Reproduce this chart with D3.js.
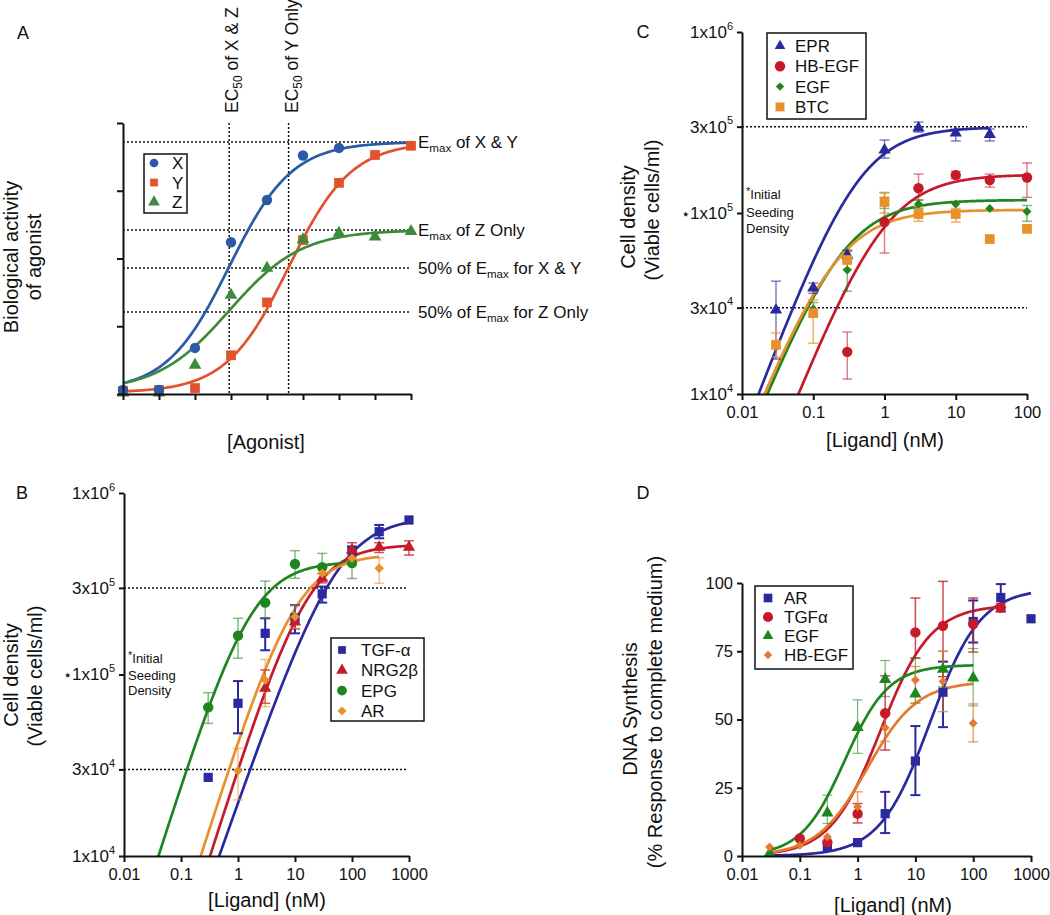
<!DOCTYPE html>
<html>
<head>
<meta charset="utf-8">
<script src="https://cdnjs.cloudflare.com/ajax/libs/d3/7.8.5/d3.min.js"></script>
<style>
body { margin: 0; background: #fff; }
text { font-family: "Liberation Sans", Arial, Helvetica, sans-serif; fill: #111; }
</style>
</head>
<body>
<svg id="fig" width="1050" height="915"></svg>
<script>
// ---------- PANEL A: curvas teoricas ----------
var aLevels = [0, 1, 2, 3, 4, 5, 6, 7, 8];
var aX = [1.5, 1.5, 17, 56, 71.6, 88, 90.8];
var aY = [1.2, 1.5, 2.2, 14.3, 33.8, 56.8, 77.9, 88.2, 91.6];
var aZ = [0.4, 0.4, 10.7, 36.5, 46.5, 57, 59.4, 58, 60];
// ajuste: [base, tope, punto medio, pendiente]
var aFitX = [1, 93, 2.95, 1.15];
var aFitY = [0.5, 93, 4.6, 1.15];
var aFitZ = [1, 60.5, 2.95, 1.0];
var aRefY = [93, 60.5, 46.5, 30.25];
var aRefLabels = [
    [['E', ''], ['max', 'sub'], [' of X & Y', '']],
    [['E', ''], ['max', 'sub'], [' of Z Only', '']],
    [['50% of E', ''], ['max', 'sub'], [' for X & Y', '']],
    [['50% of E', ''], ['max', 'sub'], [' for Z Only', '']]
];
var aEc50 = [2.95, 4.6];
var aEc50Labels = ['X & Z', 'Y Only'];

// ---------- PANEL B ----------
// [nM, celulas/ml, error bajo, error alto]
var bTGFa = [[0.3, 27100], [1, 69400, 47400, 92000], [3, 168600, 136000, 204000], [10, 205000, 168600, 241000],
    [30, 278000, 249000, 305000], [100, 485000, 465000, 505000], [300, 612000, 563000, 667000], [1000, 710000]];
var bNRG2b = [[3, 83900, 69400, 106000], [10, 195000, 178000, 214000], [30, 339000, 320000, 360000],
    [100, 485000, 445000, 532000], [300, 502000, 470000, 532000], [1000, 502000, 455000, 545000]];
var bEPG = [[0.3, 65900, 53800, 79400], [1, 163700, 123000, 204000], [3, 249000, 204000, 327000],
    [10, 406000, 339000, 481000], [30, 390000, 332000, 465000], [100, 411000, 338000, 485000]];
var bAR = [[1, 29500, 20400, 39200], [3, 93300, 66500, 121000], [10, 208000, 180000, 240000],
    [30, 361000, 330000, 390000], [100, 437000, 400000, 470000], [300, 385000, 318000, 440000]];
// ajuste: [tope, EC50, hill], rango
var bFits = [[740000, 55, 0.9], [520000, 16.5, 1.0], [420000, 1.65, 1.0], [460000, 10, 1.0]];
var bFitRange = [[0.01, 1000], [0.01, 1000], [0.01, 100], [0.01, 300]];

// ---------- PANEL C ----------
var cEPR = [[0.03, 29100, 15600, 42000], [0.1, 38500, 36000, 41000], [0.3, 58500, 55000, 62000],
    [1, 223000, 201000, 253000], [3, 295000, 280000, 318000], [10, 277000, 250000, 291000], [30, 272000, 250000, 291000]];
var cHBEGF = [[0.3, 17100, 12100, 22000], [1, 89100, 60100, 122000], [3, 137000, 118000, 164000],
    [10, 162000, 155000, 170000], [30, 152000, 139000, 164000], [100, 157000, 122000, 189000]];
var cEGF = [[0.1, 29500, 27000, 32000], [0.3, 48400, 37000, 62500], [1, 116000, 106000, 129000],
    [3, 112000, 106000, 118000], [10, 112000], [30, 106000], [100, 102000, 90000, 110000]];
var cBTC = [[0.03, 18700, 16000, 21700], [0.1, 28000, 19100, 33100], [0.3, 55000, 49000, 61000],
    [1, 115000, 100000, 130000], [3, 98700, 90000, 108000], [10, 98700, 89100, 106000], [30, 71800], [100, 81700]];
var cFits = [[298000, 0.42, 1.05], [163000, 0.95, 1.0], [118000, 0.246, 1.0], [104000, 0.195, 1.0]];
var cFitRange = [[0.01, 30], [0.01, 100], [0.01, 100], [0.01, 100]];

// ---------- PANEL D ----------
var dAR = [[0.3, 3.5], [1, 4.9], [3, 15.5, 8.4, 23.5], [10, 34.8, 22.3, 47.6], [30, 60, 47.2, 71.2],
    [100, 85.9, 78.2, 93.6], [300, 94.7, 89.6, 99.6], [1000, 86.9]];
var dTGFa = [[0.1, 6.4], [0.3, 5], [1, 15.5, 12.1, 19.2], [3, 52.3, 38.8, 66], [10, 81.9, 72.5, 94.5],
    [30, 84.3, 65.7, 100.6], [100, 85, 74.7, 94.5], [300, 91, 89.5, 92.5]];
var dEGF = [[0.03, 0.9], [0.3, 15.8, 11.9, 22.3], [1, 47.1, 37.6, 57.2], [3, 64.7, 58.4, 71.6],
    [10, 59.4, 56, 72.5], [30, 68.4, 62, 75], [100, 65.2, 55, 76]];
var dHBEGF = [[0.03, 3.3], [0.1, 3.9], [0.3, 7], [1, 18, 14.3, 23.5], [3, 47, 42, 52], [10, 64.5, 56, 69.4],
    [30, 63.9, 52.9, 75], [100, 48.6, 41.8, 55.7]];
var dFits = [[98, 18, 1.0], [92, 2.5, 1.0], [70, 0.6, 1.15], [64, 1.46, 1.0]];
var dFitRange = [[0.03, 1000], [0.03, 300], [0.03, 100], [0.03, 100]];

var xTicksB = [0.01, 0.1, 1, 10, 100, 1000];
var xTicksC = [0.01, 0.1, 1, 10, 100];
var yTicksLog = [1e4, 3e4, 1e5, 3e5, 1e6];
var yTicksD = [0, 25, 50, 75, 100];

// colores
var BLUE = '#2a2a9e', RED = '#c41a2a', GREEN = '#1f861f', ORANGE = '#e8902a', ORANGE2 = '#e27a30';

var svg = d3.select('#fig');

function hill(x, f) {
    return f[0] / (1 + Math.pow(f[1] / x, f[2]));
}

function symbolPath(shape, size) {
    var t = { circle: d3.symbolCircle, square: d3.symbolSquare, triangle: d3.symbolTriangle, diamond: d3.symbolSquare }[shape];
    return d3.symbol().type(t).size(size)();
}

function drawMarker(g, shape, size, color, px, py) {
    g.append('path')
        .attr('d', symbolPath(shape, size))
        .attr('fill', color)
        .attr('transform', 'translate(' + px + ',' + py + ')' + (shape === 'diamond' ? ' rotate(45)' : ''));
}

function styleAxis(ax, fs) {
    ax.selectAll('path, line').attr('stroke', '#111').attr('stroke-width', 2);
    ax.selectAll('text').attr('font-size', fs).attr('fill', '#111');
}

function richText(t, parts, fs) {
    // partes con subindice
    var shift = 0;
    parts.forEach(function (p) {
        var s = t.append('tspan').text(p[0]);
        if (p[1] === 'sub') {
            s.attr('font-size', fs * 0.68).attr('dy', 4);
            shift = 4;
        } else if (shift) {
            s.attr('dy', -shift);
            shift = 0;
        }
    });
}

function legend(g, box, rows, markerX, textX, items) {
    g.append('rect').attr('x', box[0]).attr('y', box[1]).attr('width', box[2]).attr('height', box[3])
        .attr('fill', '#fff').attr('stroke', '#111').attr('stroke-width', 1.5);
    items.forEach(function (it, i) {
        var yy = rows[0] + i * rows[1];
        drawMarker(g, it.shape, it.legSize || 60, it.color, markerX, yy);
        g.append('text').attr('x', textX).attr('y', yy).attr('dy', '0.36em')
            .attr('font-size', 17).text(it.name);
    });
}

function rotTitle(g, lines, xs, cy, fs) {
    lines.forEach(function (l, i) {
        g.append('text').attr('transform', 'translate(' + xs[i] + ',' + cy[i] + ') rotate(-90)')
            .attr('text-anchor', 'middle').attr('font-size', fs).text(l);
    });
}

function seedingNote(g, x, ys) {
    var t = g.append('text').attr('x', x).attr('y', ys[0]).attr('font-size', 13);
    t.append('tspan').attr('font-size', 11).attr('dy', -4).text('*');
    t.append('tspan').attr('dy', 4).text('Initial');
    g.append('text').attr('x', x).attr('y', ys[1]).attr('font-size', 13).text('Seeding');
    g.append('text').attr('x', x).attr('y', ys[2]).attr('font-size', 13).text('Density');
}

// ---------- grafico dosis-respuesta generico ----------
function doseChart(p) {
    var g = svg.append('g');
    var x = d3.scaleLog().domain(p.xDomain).range(p.xRange);
    var y = (p.log ? d3.scaleLog() : d3.scaleLinear()).domain(p.yDomain).range(p.yRange);

    g.append('clipPath').attr('id', p.id).append('rect')
        .attr('x', p.xRange[0]).attr('y', p.yRange[1])
        .attr('width', p.xRange[1] - p.xRange[0] + 40).attr('height', p.yRange[0] - p.yRange[1]);

    // lineas punteadas de referencia
    p.refLines.forEach(function (v) {
        g.append('line').attr('x1', p.xRange[0]).attr('x2', p.refEnd)
            .attr('y1', y(v)).attr('y2', y(v))
            .attr('stroke', '#111').attr('stroke-width', 1.5).attr('stroke-dasharray', '2,2');
    });

    // curvas ajustadas
    var line = d3.line().x(function (d) { return x(d[0]); }).y(function (d) { return y(d[1]); });
    p.series.forEach(function (s) {
        var lo = s.range[0], hi = s.range[1];
        var pts = d3.range(0, 241).map(function (i) {
            var xv = lo * Math.pow(hi / lo, i / 240);
            return [xv, hill(xv, s.fit)];
        });
        g.append('path').attr('d', line(pts)).attr('fill', 'none')
            .attr('stroke', s.color).attr('stroke-width', 2.7)
            .attr('clip-path', 'url(#' + p.id + ')');
    });

    // barras de error
    p.series.forEach(function (s) {
        s.data.forEach(function (d) {
            if (d[2] === undefined) return;
            var eg = g.append('g').attr('stroke', s.color).attr('stroke-width', s.errW || 1.5)
                .attr('stroke-opacity', s.errOp || 1);
            var px = x(d[0]);
            eg.append('line').attr('x1', px).attr('x2', px).attr('y1', y(d[2])).attr('y2', y(d[3]));
            eg.append('line').attr('x1', px - 5).attr('x2', px + 5).attr('y1', y(d[2])).attr('y2', y(d[2]));
            eg.append('line').attr('x1', px - 5).attr('x2', px + 5).attr('y1', y(d[3])).attr('y2', y(d[3]));
        });
    });

    // puntos
    p.series.forEach(function (s) {
        s.data.forEach(function (d) {
            drawMarker(g, s.shape, s.size, s.color, x(d[0]), y(d[1]));
        });
    });

    // ejes
    var xa = g.append('g').attr('transform', 'translate(0,' + p.yRange[0] + ')')
        .call(d3.axisBottom(x).tickValues(p.xTicks).tickFormat(function (d) { return String(d); })
            .tickSize(6).tickSizeOuter(0).tickPadding(6));
    styleAxis(xa, 16.5);

    var ya = g.append('g').attr('transform', 'translate(' + p.xRange[0] + ',0)')
        .call(d3.axisLeft(y).tickValues(p.yTicks).tickSize(5).tickSizeOuter(0).tickPadding(4)
            .tickFormat(p.log ? function () { return ''; } : function (d) { return String(d); }));
    styleAxis(ya, 16.5);
    if (p.log) {
        ya.selectAll('.tick text').each(function (d) {
            var e = Math.floor(Math.log10(d) + 1e-9);
            var m = Math.round(d / Math.pow(10, e));
            var t = d3.select(this).text(null).attr('font-size', 17);
            if (d === 1e5) t.append('tspan').attr('font-size', 15).text('\u22C6');
            t.append('tspan').text(m + 'x10');
            t.append('tspan').attr('font-size', 11).attr('dy', '-0.75em').text(e);
        });
    }
    return g;
}

// ---------- PANEL A ----------
(function () {
    var g = svg.append('g');
    var x = d3.scaleLinear().domain([0, 8]).range([123, 411]);
    var y = d3.scaleLinear().domain([0, 100]).range([394, 123]);

    aRefY.forEach(function (v, i) {
        g.append('line').attr('x1', 123).attr('x2', 411).attr('y1', y(v)).attr('y2', y(v))
            .attr('stroke', '#111').attr('stroke-width', 1.5).attr('stroke-dasharray', '2,2');
        var t = g.append('text').attr('x', 418).attr('y', y(v)).attr('dy', '0.35em').attr('font-size', 17);
        richText(t, aRefLabels[i], 17);
    });
    aEc50.forEach(function (v, i) {
        g.append('line').attr('x1', x(v)).attr('x2', x(v)).attr('y1', 123).attr('y2', 394)
            .attr('stroke', '#111').attr('stroke-width', 1.5).attr('stroke-dasharray', '2,2');
        var t = g.append('text').attr('transform', 'translate(' + (x(v) + 9) + ',113) rotate(-90)')
            .attr('font-size', 17.5);
        richText(t, [['EC', ''], ['50', 'sub'], [' of ' + aEc50Labels[i], '']], 17.5);
    });

    var series = [
        { name: 'X', data: aX, fit: aFitX, color: '#2a5aa8', shape: 'circle', size: 85 },
        { name: 'Y', data: aY, fit: aFitY, color: '#e0532d', shape: 'square', size: 95 },
        { name: 'Z', data: aZ, fit: aFitZ, color: '#3c8a3c', shape: 'triangle', size: 70 }
    ];
    var line = d3.line().x(function (d) { return x(d[0]); }).y(function (d) { return y(d[1]); });
    series.forEach(function (s) {
        var f = s.fit;
        var pts = d3.range(0, 161).map(function (i) {
            var xv = i / 20;
            return [xv, f[0] + (f[1] - f[0]) / (1 + Math.exp(-f[3] * (xv - f[2])))];
        });
        g.append('path').attr('d', line(pts)).attr('fill', 'none').attr('stroke', s.color).attr('stroke-width', 2.7);
    });
    [series[1], series[2], series[0]].forEach(function (s) {
        s.data.forEach(function (v, i) {
            drawMarker(g, s.shape, s.size, s.color, x(aLevels[i]), y(v));
        });
    });

    var xa = g.append('g').attr('transform', 'translate(0,394)')
        .call(d3.axisBottom(x).tickValues(aLevels).tickFormat('').tickSize(6).tickSizeOuter(0));
    styleAxis(xa, 16);
    var ya = g.append('g').attr('transform', 'translate(123,0)')
        .call(d3.axisLeft(y).tickValues([0, 25, 50, 75, 100]).tickFormat('').tickSize(6).tickSizeOuter(0));
    styleAxis(ya, 16);

    legend(g, [144, 154, 43, 59], [163, 19.5], 154, 172, series);

    rotTitle(g, ['Biological activity', 'of agonist'], [18, 41], [257, 257], 20);
    g.append('text').attr('x', 266).attr('y', 449).attr('text-anchor', 'middle').attr('font-size', 20).text('[Agonist]');
    g.append('text').attr('x', 23).attr('y', 39).attr('text-anchor', 'middle').attr('font-size', 18).text('A');
})();

// ---------- PANEL B ----------
var gB = doseChart({
    id: 'clipB', log: true,
    xDomain: [0.01, 1000], xRange: [124, 409], xTicks: xTicksB,
    yDomain: [1e4, 1e6], yRange: [856, 493], yTicks: yTicksLog,
    refLines: [3e5, 3e4], refEnd: 408,
    series: [
        { name: 'TGF-\u03B1', data: bTGFa, fit: bFits[0], range: bFitRange[0], color: BLUE, shape: 'square', size: 85, errW: 2 },
        { name: 'NRG2\u03B2', data: bNRG2b, fit: bFits[1], range: bFitRange[1], color: RED, shape: 'triangle', size: 65, errOp: 0.75 },
        { name: 'EPG', data: bEPG, fit: bFits[2], range: bFitRange[2], color: GREEN, shape: 'circle', size: 85, errOp: 0.55 },
        { name: 'AR', data: bAR, fit: bFits[3], range: bFitRange[3], color: ORANGE, shape: 'diamond', size: 45, errOp: 0.55 }
    ]
});
legend(gB, [331, 638, 93, 83], [650, 20.3], 342, 361, [
    { name: 'TGF-\u03B1', color: BLUE, shape: 'square' },
    { name: 'NRG2\u03B2', color: RED, shape: 'triangle' },
    { name: 'EPG', color: GREEN, shape: 'circle', legSize: 75 },
    { name: 'AR', color: ORANGE, shape: 'diamond', legSize: 40 }
]);
rotTitle(gB, ['Cell density', '(Viable cells/ml)'], [18, 42], [675, 676], 20);
gB.append('text').attr('x', 267).attr('y', 907).attr('text-anchor', 'middle').attr('font-size', 20).text('[Ligand] (nM)');
seedingNote(gB, 128, [663, 680, 695]);
gB.append('text').attr('x', 22).attr('y', 499).attr('text-anchor', 'middle').attr('font-size', 18).text('B');

// ---------- PANEL C ----------
var gC = doseChart({
    id: 'clipC', log: true,
    xDomain: [0.01, 100], xRange: [742, 1027], xTicks: xTicksC,
    yDomain: [1e4, 1e6], yRange: [394, 32], yTicks: yTicksLog,
    refLines: [3e5, 3e4], refEnd: 1027,
    series: [
        { name: 'EPR', data: cEPR, fit: cFits[0], range: cFitRange[0], color: BLUE, shape: 'triangle', size: 65, errOp: 0.6 },
        { name: 'HB-EGF', data: cHBEGF, fit: cFits[1], range: cFitRange[1], color: RED, shape: 'circle', size: 85, errOp: 0.55 },
        { name: 'EGF', data: cEGF, fit: cFits[2], range: cFitRange[2], color: GREEN, shape: 'diamond', size: 40, errOp: 0.55 },
        { name: 'BTC', data: cBTC, fit: cFits[3], range: cFitRange[3], color: ORANGE, shape: 'square', size: 95, errOp: 0.7 }
    ]
});
legend(gC, [767, 33, 99, 86], [46, 20.3], 780, 795, [
    { name: 'EPR', color: BLUE, shape: 'triangle', legSize: 50 },
    { name: 'HB-EGF', color: RED, shape: 'circle', legSize: 85 },
    { name: 'EGF', color: GREEN, shape: 'diamond', legSize: 35 },
    { name: 'BTC', color: ORANGE, shape: 'square', legSize: 80 }
]);
rotTitle(gC, ['Cell density', '(Viable cells/ml)'], [635, 659], [217, 210], 20);
gC.append('text').attr('x', 885).attr('y', 447).attr('text-anchor', 'middle').attr('font-size', 20).text('[Ligand] (nM)');
seedingNote(gC, 746, [199, 217, 233]);
gC.append('text').attr('x', 643).attr('y', 38).attr('text-anchor', 'middle').attr('font-size', 18).text('C');

// ---------- PANEL D ----------
var gD = doseChart({
    id: 'clipD', log: false,
    xDomain: [0.01, 1000], xRange: [742, 1031], xTicks: xTicksB,
    yDomain: [0, 100], yRange: [856, 583], yTicks: yTicksD,
    refLines: [], refEnd: 1031,
    series: [
        { name: 'AR', data: dAR, fit: dFits[0], range: dFitRange[0], color: BLUE, shape: 'square', size: 85, errW: 2 },
        { name: 'TGF\u03B1', data: dTGFa, fit: dFits[1], range: dFitRange[1], color: RED, shape: 'circle', size: 85, errOp: 0.8 },
        { name: 'EGF', data: dEGF, fit: dFits[2], range: dFitRange[2], color: GREEN, shape: 'triangle', size: 65, errOp: 0.6, errW: 1.2 },
        { name: 'HB-EGF', data: dHBEGF, fit: dFits[3], range: dFitRange[3], color: ORANGE2, shape: 'diamond', size: 40, errOp: 0.7 }
    ]
});
legend(gD, [755, 586, 98, 83], [598, 19], 768, 784, [
    { name: 'AR', color: BLUE, shape: 'square', legSize: 75 },
    { name: 'TGF\u03B1', color: RED, shape: 'circle', legSize: 80 },
    { name: 'EGF', color: GREEN, shape: 'triangle', legSize: 50 },
    { name: 'HB-EGF', color: ORANGE2, shape: 'diamond', legSize: 35 }
]);
rotTitle(gD, ['DNA Synthesis', '(% Response to complete medium)'], [637, 662], [709, 712], 20);
gD.append('text').attr('x', 893).attr('y', 912).attr('text-anchor', 'middle').attr('font-size', 20).text('[Ligand] (nM)');
gD.append('text').attr('x', 643).attr('y', 499).attr('text-anchor', 'middle').attr('font-size', 18).text('D');
</script>
</body>
</html>
